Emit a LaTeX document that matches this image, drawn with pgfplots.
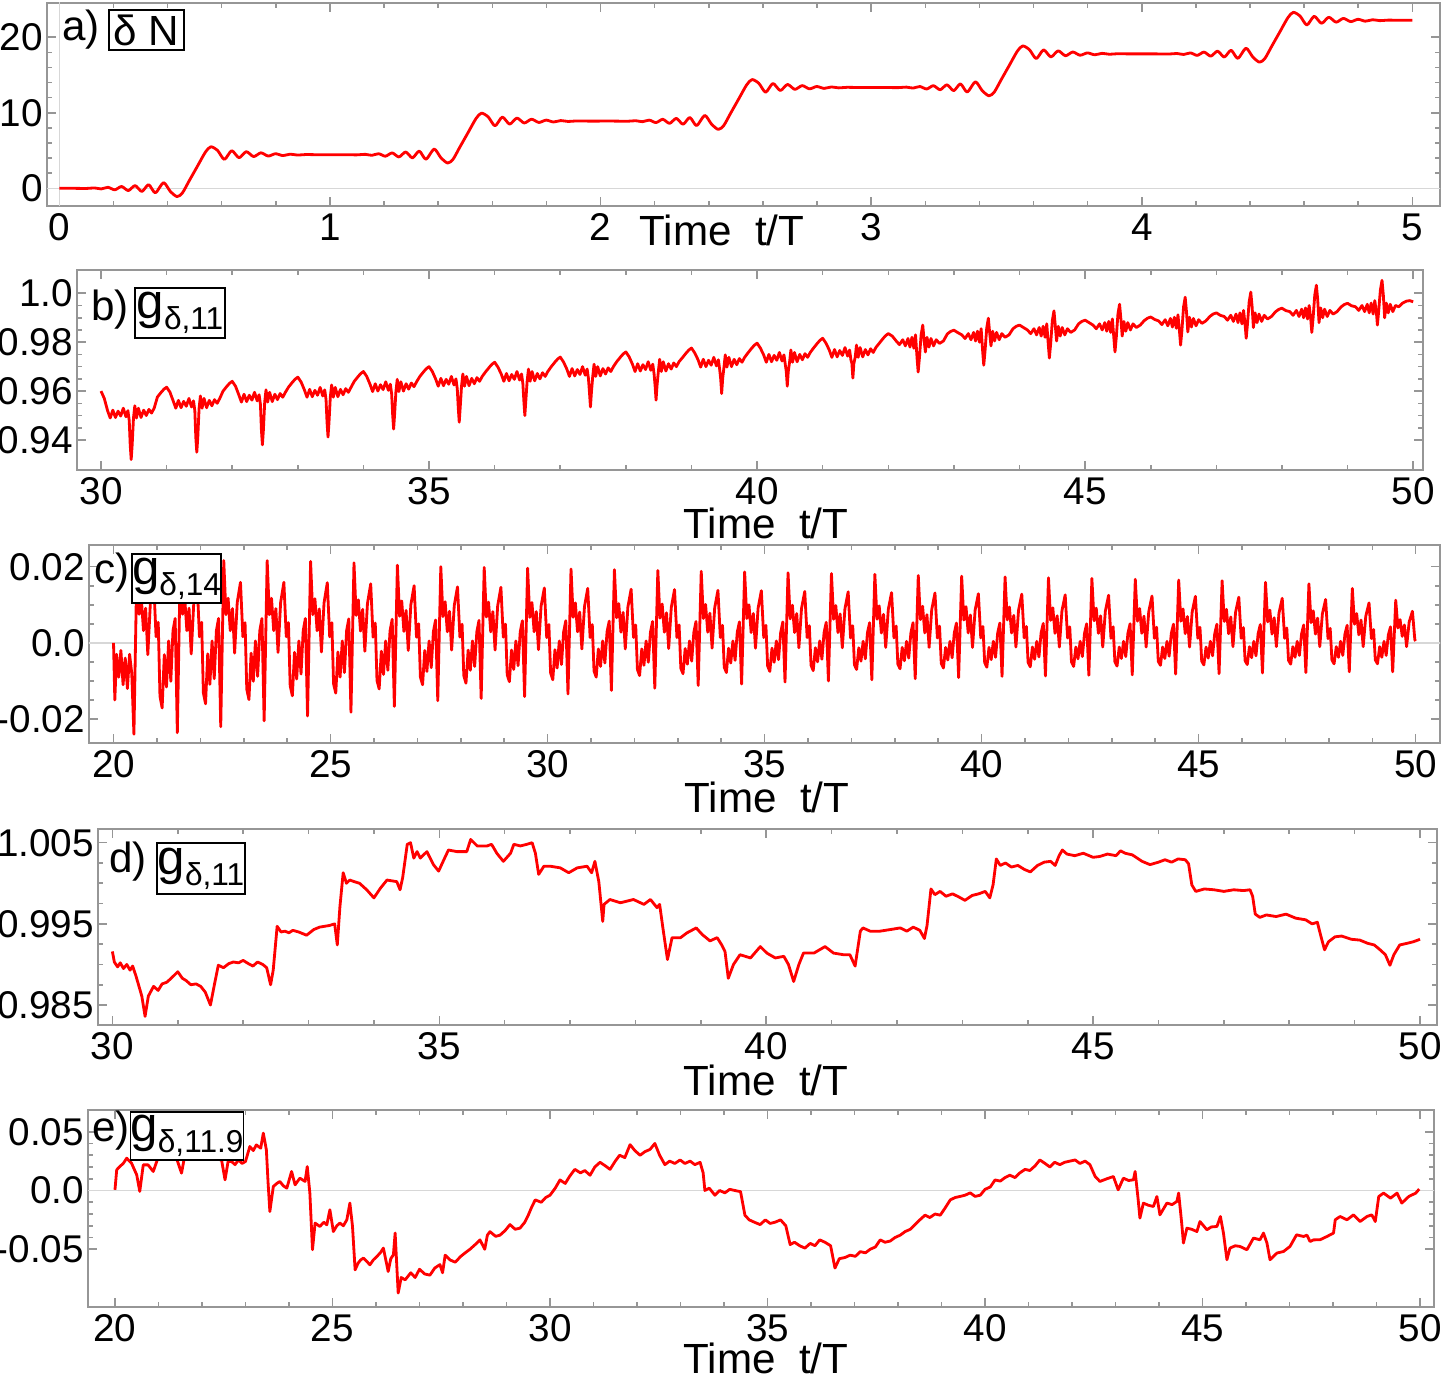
\documentclass[border=0pt]{standalone}
\usepackage{fontspec}
\setmainfont{Liberation Sans}
\usepackage{pgfplots}
\pgfplotsset{compat=1.18}

\definecolor{framegray}{RGB}{150,150,150}
\definecolor{zerogray}{RGB}{215,215,215}

\pgfplotsset{
  panel/.style={
    scale only axis,
    anchor=south west,
    axis line style={framegray, line width=0.45pt},
    tick style={framegray, line width=0.45pt},
    major tick length=0.09cm,
    minor tick length=0.05cm,
    tick align=inside,
    xtick pos=both, ytick pos=both,
    xticklabel pos=lower, yticklabel pos=left,
    scaled x ticks=false, scaled y ticks=false,
    ticklabel style={font=\fontsize{11}{13}\selectfont, text=black},
    yticklabel style={inner xsep=1pt},
    xticklabel style={inner ysep=2pt},
  },
  dataline/.style={red, line width=0.8pt, line join=round, mark=none},
  zeroline/.style={zerogray, line width=0.45pt, mark=none},
}
\newcommand{\gsub}[1]{{\fontsize{14}{16}\selectfont g}\raisebox{-0.5ex}{\fontsize{9}{10}\selectfont #1}}
\newcommand{\timelabel}{Time\hspace{0.55em}t/T}

\begin{document}
\begin{tikzpicture}
\useasboundingbox (0,0) rectangle (14.49,13.83);

% ---------------- a) delta N
\begin{axis}[panel, at={(0.47cm,11.77cm)}, width=13.93cm, height=2.03cm,
  xmin=-0.0455, xmax=5.102, ymin=-2.34, ymax=24.54,
  xtick={0,1,2,3,4,5}, xticklabels={0,1,2,3,4,5},
  ytick={0,10,20}, yticklabels={0,10,20},
  minor x tick num=4, minor y tick num=4]
\addplot[zeroline] coordinates {(-1,0) (6,0)};
\addplot[zeroline] coordinates {(0,-5) (0,30)};
\addplot[dataline, smooth, tension=0.45] coordinates {
(0.000,0.00) (0.050,0.00) (0.100,-0.02) (0.130,0.05) (0.155,-0.08) (0.180,0.13) (0.205,-0.20) (0.230,0.24) (0.255,-0.30) (0.280,0.36) (0.305,-0.42) (0.330,0.48) (0.355,-0.60) (0.385,0.75) (0.410,-0.40) (0.435,-1.10) (0.455,-0.60) (0.480,1.00) (0.510,2.90) (0.540,4.80) (0.560,5.50) (0.585,5.00) (0.610,3.83) (0.637,4.98) (0.664,4.05) (0.691,4.85) (0.718,4.20) (0.745,4.70) (0.772,4.27) (0.799,4.58) (0.826,4.33) (0.853,4.52) (0.880,4.40) (0.910,4.47) (0.950,4.45) (1.000,4.45)
(1.050,4.45) (1.100,4.43) (1.130,4.50) (1.155,4.37) (1.180,4.58) (1.205,4.25) (1.230,4.69) (1.255,4.15) (1.280,4.81) (1.305,4.03) (1.330,4.93) (1.355,3.85) (1.385,5.20) (1.410,4.05) (1.435,3.35) (1.455,3.85) (1.480,5.45) (1.510,7.35) (1.540,9.25) (1.560,9.95) (1.585,9.45) (1.610,8.28) (1.637,9.43) (1.664,8.50) (1.691,9.30) (1.718,8.65) (1.745,9.15) (1.772,8.72) (1.799,9.03) (1.826,8.78) (1.853,8.97) (1.880,8.85) (1.910,8.92) (1.950,8.90) (2.000,8.90)
(2.050,8.90) (2.100,8.88) (2.130,8.95) (2.155,8.82) (2.180,9.03) (2.205,8.70) (2.230,9.14) (2.255,8.60) (2.280,9.26) (2.305,8.48) (2.330,9.38) (2.355,8.30) (2.385,9.65) (2.410,8.50) (2.435,7.80) (2.455,8.30) (2.480,9.90) (2.510,11.80) (2.540,13.70) (2.560,14.40) (2.585,13.90) (2.610,12.73) (2.637,13.88) (2.664,12.95) (2.691,13.75) (2.718,13.10) (2.745,13.60) (2.772,13.17) (2.799,13.48) (2.826,13.23) (2.853,13.42) (2.880,13.30) (2.910,13.37) (2.950,13.35) (3.000,13.35)
(3.050,13.35) (3.100,13.33) (3.130,13.40) (3.155,13.27) (3.180,13.48) (3.205,13.15) (3.230,13.59) (3.255,13.05) (3.280,13.71) (3.305,12.93) (3.330,13.83) (3.355,12.75) (3.385,14.10) (3.410,12.95) (3.435,12.25) (3.455,12.75) (3.480,14.35) (3.510,16.25) (3.540,18.15) (3.560,18.85) (3.585,18.35) (3.610,17.18) (3.637,18.33) (3.664,17.40) (3.691,18.20) (3.718,17.55) (3.745,18.05) (3.772,17.62) (3.799,17.93) (3.826,17.68) (3.853,17.87) (3.880,17.75) (3.910,17.82) (3.950,17.80) (4.000,17.80)
(4.050,17.80) (4.100,17.78) (4.130,17.85) (4.155,17.72) (4.180,17.93) (4.205,17.60) (4.230,18.04) (4.255,17.50) (4.280,18.16) (4.305,17.38) (4.330,18.28) (4.355,17.20) (4.385,18.55) (4.410,17.40) (4.435,16.70) (4.455,17.20) (4.480,18.80) (4.510,20.70) (4.540,22.60) (4.560,23.30) (4.585,22.80) (4.610,21.63) (4.637,22.78) (4.664,21.85) (4.691,22.65) (4.718,22.00) (4.745,22.50) (4.772,22.07) (4.799,22.38) (4.826,22.13) (4.853,22.32) (4.880,22.20) (4.910,22.27) (4.950,22.25) (5.000,22.25)
};
\end{axis}

% ---------------- b) g_{delta,11}
\begin{axis}[panel, at={(0.77cm,9.13cm)}, width=13.46cm, height=2.00cm,
  xmin=29.634, xmax=50.15, ymin=0.92773, ymax=1.00953,
  xtick={30,35,40,45,50}, xticklabels={30,35,40,45,50},
  ytick={0.94,0.96,0.98,1.0}, yticklabels={0.94,0.96,0.98,1.0},
  minor x tick num=4, minor y tick num=3]
\addplot[dataline] coordinates {
(30.00,0.9600) (30.05,0.9570) (30.10,0.9520) (30.14,0.9490) (30.18,0.9522) (30.22,0.9492) (30.26,0.9518) (30.30,0.9498) (30.34,0.9530) (30.38,0.9495) (30.41,0.9520) (30.43,0.9480) (30.445,0.9380) (30.46,0.9320) (30.475,0.9380) (30.495,0.9490) (30.515,0.9540) (30.54,0.9490) (30.57,0.9530) (30.61,0.9492) (30.65,0.9522) (30.69,0.9500) (30.73,0.9525) (30.77,0.9510) (30.81,0.9530) (30.86,0.9576) (30.92,0.9596) (30.96,0.9608)
(31.00,0.9616) (31.05,0.9596) (31.10,0.9560) (31.14,0.9530) (31.18,0.9562) (31.22,0.9532) (31.26,0.9558) (31.30,0.9538) (31.34,0.9570) (31.38,0.9535) (31.41,0.9560) (31.43,0.9520) (31.445,0.9410) (31.46,0.9350) (31.475,0.9410) (31.495,0.9530) (31.515,0.9580) (31.54,0.9530) (31.57,0.9570) (31.61,0.9532) (31.65,0.9562) (31.69,0.9540) (31.73,0.9565) (31.77,0.9550) (31.81,0.9570) (31.86,0.9600) (31.92,0.9620) (31.96,0.9632)
(32.00,0.9640) (32.05,0.9620) (32.10,0.9585) (32.14,0.9555) (32.18,0.9587) (32.22,0.9557) (32.26,0.9583) (32.30,0.9563) (32.34,0.9595) (32.38,0.9560) (32.41,0.9585) (32.43,0.9545) (32.445,0.9440) (32.46,0.9380) (32.475,0.9440) (32.495,0.9555) (32.515,0.9605) (32.54,0.9555) (32.57,0.9595) (32.61,0.9557) (32.65,0.9587) (32.69,0.9565) (32.73,0.9590) (32.77,0.9575) (32.81,0.9595) (32.86,0.9617) (32.92,0.9637) (32.96,0.9649)
(33.00,0.9657) (33.05,0.9637) (33.10,0.9605) (33.14,0.9575) (33.18,0.9607) (33.22,0.9577) (33.26,0.9603) (33.30,0.9583) (33.34,0.9615) (33.38,0.9580) (33.41,0.9605) (33.43,0.9565) (33.445,0.9472) (33.46,0.9412) (33.475,0.9472) (33.495,0.9575) (33.515,0.9625) (33.54,0.9575) (33.57,0.9615) (33.61,0.9577) (33.65,0.9607) (33.69,0.9585) (33.73,0.9610) (33.77,0.9595) (33.81,0.9615) (33.86,0.9640) (33.92,0.9660) (33.96,0.9672)
(34.00,0.9680) (34.05,0.9660) (34.10,0.9628) (34.14,0.9598) (34.18,0.9630) (34.22,0.9600) (34.26,0.9626) (34.30,0.9606) (34.34,0.9638) (34.38,0.9603) (34.41,0.9628) (34.43,0.9588) (34.445,0.9505) (34.46,0.9445) (34.475,0.9505) (34.495,0.9598) (34.515,0.9648) (34.54,0.9598) (34.57,0.9638) (34.61,0.9600) (34.65,0.9630) (34.69,0.9608) (34.73,0.9633) (34.77,0.9618) (34.81,0.9638) (34.86,0.9660) (34.92,0.9680) (34.96,0.9692)
(35.00,0.9700) (35.05,0.9680) (35.10,0.9650) (35.14,0.9620) (35.18,0.9652) (35.22,0.9622) (35.26,0.9648) (35.30,0.9628) (35.34,0.9660) (35.38,0.9625) (35.41,0.9650) (35.43,0.9610) (35.445,0.9533) (35.46,0.9473) (35.475,0.9533) (35.495,0.9620) (35.515,0.9670) (35.54,0.9620) (35.57,0.9660) (35.61,0.9622) (35.65,0.9652) (35.69,0.9630) (35.73,0.9655) (35.77,0.9640) (35.81,0.9660) (35.86,0.9678) (35.92,0.9698) (35.96,0.9710)
(36.00,0.9718) (36.05,0.9698) (36.10,0.9670) (36.14,0.9640) (36.18,0.9672) (36.22,0.9642) (36.26,0.9668) (36.30,0.9648) (36.34,0.9680) (36.38,0.9645) (36.41,0.9670) (36.43,0.9630) (36.445,0.9560) (36.46,0.9500) (36.475,0.9560) (36.495,0.9640) (36.515,0.9690) (36.54,0.9640) (36.57,0.9680) (36.61,0.9642) (36.65,0.9672) (36.69,0.9650) (36.73,0.9675) (36.77,0.9660) (36.81,0.9680) (36.86,0.9699) (36.92,0.9719) (36.96,0.9731)
(37.00,0.9739) (37.05,0.9719) (37.10,0.9690) (37.14,0.9660) (37.18,0.9692) (37.22,0.9662) (37.26,0.9688) (37.30,0.9668) (37.34,0.9700) (37.38,0.9665) (37.41,0.9690) (37.43,0.9650) (37.445,0.9595) (37.46,0.9535) (37.475,0.9595) (37.495,0.9660) (37.515,0.9710) (37.54,0.9660) (37.57,0.9700) (37.61,0.9662) (37.65,0.9692) (37.69,0.9670) (37.73,0.9695) (37.77,0.9680) (37.81,0.9700) (37.86,0.9720) (37.92,0.9740) (37.96,0.9752)
(38.00,0.9760) (38.05,0.9740) (38.10,0.9710) (38.14,0.9680) (38.18,0.9712) (38.22,0.9682) (38.26,0.9708) (38.30,0.9688) (38.34,0.9720) (38.38,0.9685) (38.41,0.9710) (38.43,0.9670) (38.445,0.9623) (38.46,0.9563) (38.475,0.9623) (38.495,0.9680) (38.515,0.9730) (38.54,0.9680) (38.57,0.9720) (38.61,0.9682) (38.65,0.9712) (38.69,0.9690) (38.73,0.9715) (38.77,0.9700) (38.81,0.9720) (38.86,0.9736) (38.92,0.9756) (38.96,0.9768)
(39.00,0.9776) (39.05,0.9756) (39.10,0.9728) (39.14,0.9698) (39.18,0.9730) (39.22,0.9700) (39.26,0.9726) (39.30,0.9706) (39.34,0.9738) (39.38,0.9703) (39.41,0.9728) (39.43,0.9688) (39.445,0.9650) (39.46,0.9590) (39.475,0.9650) (39.495,0.9698) (39.515,0.9748) (39.54,0.9698) (39.57,0.9738) (39.61,0.9700) (39.65,0.9730) (39.69,0.9708) (39.73,0.9733) (39.77,0.9718) (39.81,0.9738) (39.86,0.9756) (39.92,0.9776) (39.96,0.9788)
(40.00,0.9796) (40.05,0.9776) (40.10,0.9748) (40.14,0.9718) (40.18,0.9750) (40.22,0.9720) (40.26,0.9746) (40.30,0.9726) (40.34,0.9758) (40.38,0.9723) (40.41,0.9748) (40.43,0.9708) (40.445,0.9680) (40.46,0.9620) (40.475,0.9680) (40.495,0.9718) (40.515,0.9768) (40.54,0.9718) (40.57,0.9758) (40.61,0.9720) (40.65,0.9750) (40.69,0.9728) (40.73,0.9753) (40.77,0.9738) (40.81,0.9758) (40.86,0.9776) (40.92,0.9796) (40.96,0.9808)
(41.00,0.9816) (41.05,0.9796) (41.10,0.9768) (41.14,0.9738) (41.18,0.9770) (41.22,0.9740) (41.26,0.9766) (41.30,0.9746) (41.34,0.9778) (41.38,0.9743) (41.41,0.9768) (41.43,0.9728) (41.445,0.9713) (41.46,0.9653) (41.475,0.9713) (41.495,0.9738) (41.515,0.9788) (41.54,0.9738) (41.57,0.9778) (41.61,0.9740) (41.65,0.9770) (41.69,0.9748) (41.73,0.9773) (41.77,0.9758) (41.81,0.9778) (41.86,0.9795) (41.92,0.9815) (41.96,0.9827)
(42.00,0.9835) (42.06,0.9825) (42.12,0.9805) (42.17,0.9790) (42.22,0.9810) (42.26,0.9785) (42.30,0.9815) (42.33,0.9780) (42.36,0.9820) (42.39,0.9775) (42.415,0.9830) (42.44,0.9728) (42.455,0.9678) (42.475,0.9738) (42.50,0.9830) (42.525,0.9870) (42.545,0.9810) (42.565,0.9760) (42.59,0.9820) (42.62,0.9780) (42.65,0.9815) (42.69,0.9785) (42.73,0.9810) (42.78,0.9795) (42.84,0.9805) (42.90,0.9834) (42.95,0.9844)
(43.00,0.9849) (43.06,0.9839) (43.12,0.9830) (43.17,0.9815) (43.22,0.9835) (43.26,0.9810) (43.30,0.9840) (43.33,0.9805) (43.36,0.9845) (43.39,0.9800) (43.415,0.9855) (43.44,0.9756) (43.455,0.9706) (43.475,0.9766) (43.50,0.9858) (43.525,0.9898) (43.545,0.9838) (43.565,0.9785) (43.59,0.9845) (43.62,0.9805) (43.65,0.9840) (43.69,0.9810) (43.73,0.9835) (43.78,0.9820) (43.84,0.9830) (43.90,0.9855) (43.95,0.9865)
(44.00,0.9870) (44.06,0.9860) (44.12,0.9850) (44.17,0.9835) (44.22,0.9855) (44.26,0.9830) (44.30,0.9860) (44.33,0.9825) (44.36,0.9865) (44.39,0.9820) (44.415,0.9875) (44.44,0.9785) (44.455,0.9735) (44.475,0.9795) (44.50,0.9888) (44.525,0.9928) (44.545,0.9868) (44.565,0.9805) (44.59,0.9865) (44.62,0.9825) (44.65,0.9860) (44.69,0.9830) (44.73,0.9855) (44.78,0.9840) (44.84,0.9850) (44.90,0.9875) (44.95,0.9885)
(45.00,0.9890) (45.06,0.9880) (45.12,0.9870) (45.17,0.9855) (45.22,0.9875) (45.26,0.9850) (45.30,0.9880) (45.33,0.9845) (45.36,0.9885) (45.39,0.9840) (45.415,0.9895) (45.44,0.9810) (45.455,0.9760) (45.475,0.9820) (45.50,0.9915) (45.525,0.9955) (45.545,0.9895) (45.565,0.9825) (45.59,0.9885) (45.62,0.9845) (45.65,0.9880) (45.69,0.9850) (45.73,0.9875) (45.78,0.9860) (45.84,0.9870) (45.90,0.9888) (45.95,0.9898)
(46.00,0.9903) (46.06,0.9893) (46.12,0.9887) (46.17,0.9872) (46.22,0.9892) (46.26,0.9867) (46.30,0.9897) (46.33,0.9862) (46.36,0.9902) (46.39,0.9857) (46.415,0.9912) (46.44,0.9838) (46.455,0.9788) (46.475,0.9848) (46.50,0.9944) (46.525,0.9984) (46.545,0.9924) (46.565,0.9842) (46.59,0.9902) (46.62,0.9862) (46.65,0.9897) (46.69,0.9867) (46.73,0.9892) (46.78,0.9877) (46.84,0.9887) (46.90,0.9905) (46.95,0.9915)
(47.00,0.9920) (47.06,0.9910) (47.12,0.9905) (47.17,0.9890) (47.22,0.9910) (47.26,0.9885) (47.30,0.9915) (47.33,0.9880) (47.36,0.9920) (47.39,0.9875) (47.415,0.9930) (47.44,0.9866) (47.455,0.9816) (47.475,0.9876) (47.50,0.9965) (47.525,1.0005) (47.545,0.9945) (47.565,0.9860) (47.59,0.9920) (47.62,0.9880) (47.65,0.9915) (47.69,0.9885) (47.73,0.9910) (47.78,0.9895) (47.84,0.9905) (47.90,0.9924) (47.95,0.9934)
(48.00,0.9939) (48.06,0.9929) (48.12,0.9925) (48.17,0.9910) (48.22,0.9930) (48.26,0.9905) (48.30,0.9935) (48.33,0.9900) (48.36,0.9940) (48.39,0.9895) (48.415,0.9950) (48.44,0.9890) (48.455,0.9840) (48.475,0.9900) (48.50,0.9993) (48.525,1.0033) (48.545,0.9973) (48.565,0.9880) (48.59,0.9940) (48.62,0.9900) (48.65,0.9935) (48.69,0.9905) (48.73,0.9930) (48.78,0.9915) (48.84,0.9925) (48.90,0.9944) (48.95,0.9954)
(49.00,0.9959) (49.06,0.9949) (49.12,0.9945) (49.17,0.9930) (49.22,0.9950) (49.26,0.9925) (49.30,0.9955) (49.33,0.9920) (49.36,0.9960) (49.39,0.9915) (49.415,0.9970) (49.44,0.9920) (49.455,0.9870) (49.475,0.9930) (49.50,1.0013) (49.525,1.0053) (49.545,0.9993) (49.565,0.9900) (49.59,0.9960) (49.62,0.9920) (49.65,0.9955) (49.69,0.9925) (49.73,0.9950) (49.78,0.9945) (49.84,0.9960) (49.90,0.9968) (49.95,0.9970) (50.00,0.9965)
};
\end{axis}

% ---------------- c) g_{delta,14}
\begin{axis}[panel, at={(0.89cm,6.40cm)}, width=13.51cm, height=1.98cm,
  xmin=19.435, xmax=50.56, ymin=-0.0263, ymax=0.0257,
  xtick={20,25,30,35,40,45,50}, xticklabels={20,25,30,35,40,45,50},
  ytick={-0.02,0,0.02}, yticklabels={-0.02,0.0,0.02},
  minor x tick num=4, minor y tick num=3]
\addplot[zeroline] coordinates {(19,0) (51,0)};
\addplot[dataline] coordinates {
(20.00,0.0000) (20.03,-0.0150) (20.07,-0.0030) (20.12,-0.0090) (20.17,-0.0020) (20.22,-0.0110) (20.27,-0.0040) (20.32,-0.0120) (20.37,-0.0030) (20.42,-0.0080) (20.47,-0.0240)
(20.54,0.0218) (20.59,0.0075) (20.64,0.0118) (20.69,0.0032) (20.74,0.0091) (20.79,-0.0031) (20.85,0.0107) (20.925,0.0161) (20.98,0.0016) (21.03,0.0054) (21.07,-0.0140) (21.12,-0.0171) (21.17,-0.0031) (21.22,-0.0116) (21.27,0.0005) (21.32,-0.0101) (21.37,0.0032) (21.42,0.0064) (21.47,-0.0236)
(21.54,0.0218) (21.59,0.0075) (21.64,0.0118) (21.69,0.0032) (21.74,0.0091) (21.79,-0.0029) (21.85,0.0107) (21.925,0.0161) (21.98,0.0016) (22.03,0.0054) (22.07,-0.0131) (22.12,-0.0160) (22.17,-0.0029) (22.22,-0.0109) (22.27,0.0005) (22.32,-0.0094) (22.37,0.0032) (22.42,0.0064) (22.47,-0.0220)
(22.54,0.0216) (22.59,0.0074) (22.64,0.0117) (22.69,0.0032) (22.74,0.0090) (22.79,-0.0027) (22.85,0.0106) (22.925,0.0159) (22.98,0.0016) (23.03,0.0053) (23.07,-0.0122) (23.12,-0.0149) (23.17,-0.0027) (23.22,-0.0101) (23.27,0.0005) (23.32,-0.0088) (23.37,0.0032) (23.42,0.0064) (23.47,-0.0205)
(23.54,0.0216) (23.59,0.0074) (23.64,0.0117) (23.69,0.0032) (23.74,0.0090) (23.79,-0.0025) (23.85,0.0106) (23.925,0.0159) (23.98,0.0016) (24.03,0.0053) (24.07,-0.0113) (24.12,-0.0139) (24.17,-0.0025) (24.22,-0.0095) (24.27,0.0005) (24.32,-0.0082) (24.37,0.0032) (24.42,0.0064) (24.47,-0.0192)
(24.54,0.0214) (24.59,0.0074) (24.64,0.0116) (24.69,0.0032) (24.74,0.0089) (24.79,-0.0024) (24.85,0.0105) (24.925,0.0158) (24.98,0.0016) (25.03,0.0053) (25.07,-0.0108) (25.12,-0.0132) (25.17,-0.0024) (25.22,-0.0090) (25.27,0.0005) (25.32,-0.0078) (25.37,0.0032) (25.42,0.0063) (25.47,-0.0182)
(25.54,0.0210) (25.59,0.0072) (25.64,0.0113) (25.69,0.0031) (25.74,0.0088) (25.79,-0.0022) (25.85,0.0103) (25.925,0.0155) (25.98,0.0015) (26.03,0.0052) (26.07,-0.0099) (26.12,-0.0121) (26.17,-0.0022) (26.22,-0.0083) (26.27,0.0005) (26.32,-0.0072) (26.37,0.0031) (26.42,0.0062) (26.47,-0.0167)
(26.54,0.0204) (26.59,0.0070) (26.64,0.0110) (26.69,0.0030) (26.74,0.0085) (26.79,-0.0020) (26.85,0.0100) (26.925,0.0150) (26.98,0.0015) (27.03,0.0050) (27.07,-0.0090) (27.12,-0.0110) (27.17,-0.0020) (27.22,-0.0075) (27.27,0.0005) (27.32,-0.0065) (27.37,0.0030) (27.42,0.0060) (27.47,-0.0152)
(27.54,0.0200) (27.59,0.0069) (27.64,0.0108) (27.69,0.0029) (27.74,0.0083) (27.79,-0.0019) (27.85,0.0098) (27.925,0.0147) (27.98,0.0015) (28.03,0.0049) (28.07,-0.0086) (28.12,-0.0106) (28.17,-0.0019) (28.22,-0.0072) (28.27,0.0005) (28.32,-0.0062) (28.37,0.0029) (28.42,0.0059) (28.47,-0.0146)
(28.54,0.0198) (28.59,0.0068) (28.64,0.0107) (28.69,0.0029) (28.74,0.0082) (28.79,-0.0019) (28.85,0.0097) (28.925,0.0146) (28.98,0.0015) (29.03,0.0049) (29.07,-0.0084) (29.12,-0.0102) (29.17,-0.0019) (29.22,-0.0070) (29.27,0.0005) (29.32,-0.0060) (29.37,0.0029) (29.42,0.0058) (29.47,-0.0141)
(29.54,0.0196) (29.59,0.0067) (29.64,0.0106) (29.69,0.0029) (29.74,0.0082) (29.79,-0.0018) (29.85,0.0096) (29.925,0.0144) (29.98,0.0014) (30.03,0.0048) (30.07,-0.0079) (30.12,-0.0097) (30.17,-0.0018) (30.22,-0.0066) (30.27,0.0005) (30.32,-0.0057) (30.37,0.0029) (30.42,0.0058) (30.47,-0.0134)
(30.54,0.0194) (30.59,0.0067) (30.64,0.0105) (30.69,0.0029) (30.74,0.0081) (30.79,-0.0016) (30.85,0.0095) (30.925,0.0143) (30.98,0.0014) (31.03,0.0048) (31.07,-0.0074) (31.12,-0.0090) (31.17,-0.0016) (31.22,-0.0062) (31.27,0.0005) (31.32,-0.0053) (31.37,0.0029) (31.42,0.0057) (31.47,-0.0125)
(31.54,0.0192) (31.59,0.0066) (31.64,0.0103) (31.69,0.0028) (31.74,0.0080) (31.79,-0.0016) (31.85,0.0094) (31.925,0.0141) (31.98,0.0014) (32.03,0.0047) (32.07,-0.0070) (32.12,-0.0086) (32.17,-0.0016) (32.22,-0.0059) (32.27,0.0005) (32.32,-0.0051) (32.37,0.0028) (32.42,0.0056) (32.47,-0.0119)
(32.54,0.0190) (32.59,0.0065) (32.64,0.0102) (32.69,0.0028) (32.74,0.0079) (32.79,-0.0015) (32.85,0.0093) (32.925,0.0140) (32.98,0.0014) (33.03,0.0047) (33.07,-0.0067) (33.12,-0.0081) (33.17,-0.0015) (33.22,-0.0056) (33.27,0.0005) (33.32,-0.0048) (33.37,0.0028) (33.42,0.0056) (33.47,-0.0112)
(33.54,0.0188) (33.59,0.0064) (33.64,0.0101) (33.69,0.0028) (33.74,0.0078) (33.79,-0.0014) (33.85,0.0092) (33.925,0.0138) (33.98,0.0014) (34.03,0.0046) (34.07,-0.0064) (34.12,-0.0078) (34.17,-0.0014) (34.22,-0.0053) (34.27,0.0005) (34.32,-0.0046) (34.37,0.0028) (34.42,0.0055) (34.47,-0.0108)
(34.54,0.0186) (34.59,0.0064) (34.64,0.0100) (34.69,0.0027) (34.74,0.0077) (34.79,-0.0014) (34.85,0.0091) (34.925,0.0137) (34.98,0.0014) (35.03,0.0046) (35.07,-0.0061) (35.12,-0.0075) (35.17,-0.0014) (35.22,-0.0051) (35.27,0.0005) (35.32,-0.0044) (35.37,0.0027) (35.42,0.0055) (35.47,-0.0103)
(35.54,0.0184) (35.59,0.0063) (35.64,0.0099) (35.69,0.0027) (35.74,0.0077) (35.79,-0.0013) (35.85,0.0090) (35.925,0.0135) (35.98,0.0014) (36.03,0.0045) (36.07,-0.0059) (36.12,-0.0073) (36.17,-0.0013) (36.22,-0.0050) (36.27,0.0005) (36.32,-0.0043) (36.37,0.0027) (36.42,0.0054) (36.47,-0.0100)
(36.54,0.0182) (36.59,0.0062) (36.64,0.0098) (36.69,0.0027) (36.74,0.0076) (36.79,-0.0013) (36.85,0.0089) (36.925,0.0134) (36.98,0.0013) (37.03,0.0045) (37.07,-0.0058) (37.12,-0.0070) (37.17,-0.0013) (37.22,-0.0048) (37.27,0.0004) (37.32,-0.0042) (37.37,0.0027) (37.42,0.0053) (37.47,-0.0097)
(37.54,0.0180) (37.59,0.0062) (37.64,0.0097) (37.69,0.0026) (37.74,0.0075) (37.79,-0.0012) (37.85,0.0088) (37.925,0.0132) (37.98,0.0013) (38.03,0.0044) (38.07,-0.0056) (38.12,-0.0068) (38.17,-0.0012) (38.22,-0.0047) (38.27,0.0004) (38.32,-0.0040) (38.37,0.0026) (38.42,0.0053) (38.47,-0.0094)
(38.54,0.0177) (38.59,0.0061) (38.64,0.0096) (38.69,0.0026) (38.74,0.0074) (38.79,-0.0012) (38.85,0.0087) (38.925,0.0131) (38.98,0.0013) (39.03,0.0044) (39.07,-0.0054) (39.12,-0.0066) (39.17,-0.0012) (39.22,-0.0045) (39.27,0.0004) (39.32,-0.0039) (39.37,0.0026) (39.42,0.0052) (39.47,-0.0091)
(39.54,0.0175) (39.59,0.0060) (39.64,0.0095) (39.69,0.0026) (39.74,0.0073) (39.79,-0.0012) (39.85,0.0086) (39.925,0.0129) (39.98,0.0013) (40.03,0.0043) (40.07,-0.0052) (40.12,-0.0064) (40.17,-0.0012) (40.22,-0.0044) (40.27,0.0004) (40.32,-0.0038) (40.37,0.0026) (40.42,0.0052) (40.47,-0.0088)
(40.54,0.0173) (40.59,0.0060) (40.64,0.0094) (40.69,0.0026) (40.74,0.0072) (40.79,-0.0011) (40.85,0.0085) (40.925,0.0128) (40.98,0.0013) (41.03,0.0043) (41.07,-0.0051) (41.12,-0.0063) (41.17,-0.0011) (41.22,-0.0043) (41.27,0.0004) (41.32,-0.0037) (41.37,0.0026) (41.42,0.0051) (41.47,-0.0087)
(41.54,0.0171) (41.59,0.0059) (41.64,0.0092) (41.69,0.0025) (41.74,0.0071) (41.79,-0.0011) (41.85,0.0084) (41.925,0.0126) (41.98,0.0013) (42.03,0.0042) (42.07,-0.0050) (42.12,-0.0062) (42.17,-0.0011) (42.22,-0.0042) (42.27,0.0004) (42.32,-0.0036) (42.37,0.0025) (42.42,0.0050) (42.47,-0.0085)
(42.54,0.0169) (42.59,0.0058) (42.64,0.0091) (42.69,0.0025) (42.74,0.0071) (42.79,-0.0011) (42.85,0.0083) (42.925,0.0125) (42.98,0.0012) (43.03,0.0042) (43.07,-0.0050) (43.12,-0.0061) (43.17,-0.0011) (43.22,-0.0041) (43.27,0.0004) (43.32,-0.0036) (43.37,0.0025) (43.42,0.0050) (43.47,-0.0084)
(43.54,0.0167) (43.59,0.0057) (43.64,0.0090) (43.69,0.0025) (43.74,0.0070) (43.79,-0.0011) (43.85,0.0082) (43.925,0.0123) (43.98,0.0012) (44.03,0.0041) (44.07,-0.0049) (44.12,-0.0059) (44.17,-0.0011) (44.22,-0.0041) (44.27,0.0004) (44.32,-0.0035) (44.37,0.0025) (44.42,0.0049) (44.47,-0.0082)
(44.54,0.0165) (44.59,0.0057) (44.64,0.0089) (44.69,0.0024) (44.74,0.0069) (44.79,-0.0011) (44.85,0.0081) (44.925,0.0122) (44.98,0.0012) (45.03,0.0041) (45.07,-0.0048) (45.12,-0.0058) (45.17,-0.0011) (45.22,-0.0040) (45.27,0.0004) (45.32,-0.0034) (45.37,0.0024) (45.42,0.0049) (45.47,-0.0081)
(45.54,0.0163) (45.59,0.0056) (45.64,0.0088) (45.69,0.0024) (45.74,0.0068) (45.79,-0.0010) (45.85,0.0080) (45.925,0.0120) (45.98,0.0012) (46.03,0.0040) (46.07,-0.0047) (46.12,-0.0057) (46.17,-0.0010) (46.22,-0.0039) (46.27,0.0004) (46.32,-0.0034) (46.37,0.0024) (46.42,0.0048) (46.47,-0.0079)
(46.54,0.0159) (46.59,0.0055) (46.64,0.0086) (46.69,0.0023) (46.74,0.0066) (46.79,-0.0010) (46.85,0.0078) (46.925,0.0117) (46.98,0.0012) (47.03,0.0039) (47.07,-0.0046) (47.12,-0.0056) (47.17,-0.0010) (47.22,-0.0038) (47.27,0.0004) (47.32,-0.0033) (47.37,0.0023) (47.42,0.0047) (47.47,-0.0078)
(47.54,0.0155) (47.59,0.0053) (47.64,0.0084) (47.69,0.0023) (47.74,0.0065) (47.79,-0.0010) (47.85,0.0076) (47.925,0.0114) (47.98,0.0011) (48.03,0.0038) (48.07,-0.0045) (48.12,-0.0055) (48.17,-0.0010) (48.22,-0.0038) (48.27,0.0004) (48.32,-0.0033) (48.37,0.0023) (48.42,0.0046) (48.47,-0.0076)
(48.54,0.0143) (48.59,0.0049) (48.64,0.0077) (48.69,0.0021) (48.74,0.0060) (48.79,-0.0010) (48.85,0.0070) (48.925,0.0105) (48.98,0.0011) (49.03,0.0035) (49.07,-0.0045) (49.12,-0.0055) (49.17,-0.0010) (49.22,-0.0038) (49.27,0.0004) (49.32,-0.0033) (49.37,0.0021) (49.42,0.0042) (49.47,-0.0076)
(49.54,0.0112) (49.59,0.0039) (49.64,0.0061) (49.69,0.0017) (49.74,0.0047) (49.79,-0.0010) (49.85,0.0055) (49.925,0.0083) (49.98,0.0008) (50.00,0.0005)
};
\end{axis}

% ---------------- d) g_{delta,11}
\begin{axis}[panel, at={(0.98cm,3.58cm)}, width=13.39cm, height=1.96cm,
  xmin=29.78, xmax=50.26, ymin=0.98254, ymax=1.00669,
  xtick={30,35,40,45,50}, xticklabels={30,35,40,45,50},
  ytick={0.985,0.995,1.005}, yticklabels={0.985,0.995,1.005},
  minor x tick num=4, minor y tick num=3]
\addplot[dataline] coordinates {
(30.00,0.9916) (30.03,0.9903) (30.08,0.9897) (30.12,0.9902) (30.17,0.9895) (30.22,0.9900) (30.27,0.9893) (30.31,0.9898) (30.36,0.9886) (30.45,0.9861) (30.50,0.9836) (30.55,0.9861) (30.63,0.9873) (30.70,0.9868) (30.76,0.9876) (30.83,0.9878) (30.90,0.9883) (31.00,0.9891)
(31.07,0.9883) (31.13,0.9880) (31.20,0.9875) (31.28,0.9876) (31.35,0.9873) (31.42,0.9866) (31.50,0.9850) (31.56,0.9875) (31.62,0.9899) (31.70,0.9896) (31.78,0.9901) (31.85,0.9903) (31.93,0.9902) (32.00,0.9905)
(32.08,0.9901) (32.15,0.9898) (32.22,0.9903) (32.30,0.9900) (32.36,0.9896) (32.42,0.9875) (32.46,0.9893) (32.52,0.9947) (32.58,0.9940) (32.64,0.9941) (32.70,0.9939) (32.76,0.9942) (32.85,0.9940) (32.97,0.9936)
(33.08,0.9943) (33.17,0.9946) (33.32,0.9948) (33.40,0.9950) (33.44,0.9924) (33.48,0.9971) (33.53,1.0013) (33.58,1.0000) (33.63,1.0004) (33.70,1.0002) (33.78,1.0000) (33.89,0.9992) (34.00,0.9982)
(34.10,0.9994) (34.20,1.0004) (34.35,1.0002) (34.40,0.9992) (34.44,1.0007) (34.51,1.0048) (34.56,1.0050) (34.61,1.0031) (34.66,1.0039) (34.71,1.0031) (34.81,1.0039) (34.91,1.0023) (34.99,1.0015)
(35.07,1.0029) (35.14,1.0041) (35.27,1.0039) (35.42,1.0039) (35.48,1.0054) (35.58,1.0046) (35.73,1.0046) (35.80,1.0048) (35.88,1.0037) (35.98,1.0027)
(36.09,1.0037) (36.14,1.0048) (36.24,1.0046) (36.34,1.0048) (36.42,1.0050) (36.47,1.0037) (36.52,1.0011) (36.60,1.0021) (36.70,1.0021) (36.85,1.0019) (36.98,1.0013)
(37.11,1.0019) (37.26,1.0021) (37.33,1.0013) (37.38,1.0027) (37.44,1.0002) (37.50,0.9953) (37.52,0.9974) (37.61,0.9980) (37.77,0.9976) (37.97,0.9980)
(38.13,0.9974) (38.23,0.9980) (38.33,0.9970) (38.37,0.9974) (38.42,0.9945) (38.49,0.9906) (38.56,0.9933) (38.69,0.9933) (38.79,0.9939) (38.93,0.9945)
(39.02,0.9937) (39.14,0.9929) (39.25,0.9933) (39.32,0.9924) (39.37,0.9916) (39.42,0.9883) (39.50,0.9900) (39.60,0.9912) (39.76,0.9908) (39.91,0.9922)
(40.01,0.9914) (40.14,0.9908) (40.27,0.9910) (40.34,0.9900) (40.42,0.9879) (40.50,0.9900) (40.57,0.9914) (40.73,0.9914) (40.90,0.9922)
(41.03,0.9914) (41.18,0.9912) (41.28,0.9912) (41.36,0.9898) (41.44,0.9941) (41.48,0.9945) (41.59,0.9941) (41.74,0.9941) (41.90,0.9943)
(42.05,0.9945) (42.15,0.9941) (42.25,0.9946) (42.35,0.9942) (42.42,0.9932) (42.46,0.9948) (42.52,0.9993) (42.58,0.9986) (42.66,0.9990) (42.75,0.9984) (42.85,0.9987) (42.95,0.9983)
(43.04,0.9979) (43.15,0.9985) (43.25,0.9987) (43.35,0.9990) (43.42,0.9982) (43.47,0.9998) (43.52,1.0030) (43.58,1.0022) (43.66,1.0025) (43.75,1.0020) (43.85,1.0022) (43.95,1.0017)
(44.04,1.0014) (44.15,1.0022) (44.25,1.0026) (44.35,1.0027) (44.42,1.0022) (44.48,1.0034) (44.53,1.0041) (44.60,1.0036) (44.72,1.0034) (44.85,1.0037)
(45.00,1.0032) (45.10,1.0033) (45.22,1.0036) (45.35,1.0034) (45.42,1.0040) (45.49,1.0037) (45.60,1.0035) (45.75,1.0027) (45.87,1.0023)
(46.00,1.0026) (46.10,1.0029) (46.20,1.0026) (46.30,1.0030) (46.41,1.0029) (46.46,1.0024) (46.51,0.9998) (46.57,0.9990) (46.70,0.9993) (46.85,0.9992)
(47.00,0.9990) (47.15,0.9992) (47.30,0.9991) (47.40,0.9992) (47.44,0.9984) (47.48,0.9962) (47.55,0.9958) (47.65,0.9961) (47.80,0.9959) (47.95,0.9962)
(48.10,0.9957) (48.25,0.9955) (48.35,0.9950) (48.43,0.9952) (48.48,0.9936) (48.54,0.9918) (48.60,0.9928) (48.70,0.9934) (48.80,0.9935) (48.95,0.9931)
(49.08,0.9930) (49.20,0.9926) (49.30,0.9924) (49.39,0.9918) (49.47,0.9912) (49.54,0.9899) (49.60,0.9912) (49.69,0.9924) (49.80,0.9926) (49.90,0.9928) (50.00,0.9931)
};
\end{axis}

% ---------------- e) g_{delta,11.9}
\begin{axis}[panel, at={(0.88cm,0.76cm)}, width=13.46cm, height=1.97cm,
  xmin=19.38, xmax=50.32, ymin=-0.0991, ymax=0.0685,
  xtick={20,25,30,35,40,45,50}, xticklabels={20,25,30,35,40,45,50},
  ytick={-0.05,0,0.05}, yticklabels={-0.05,0.0,0.05},
  minor x tick num=4, minor y tick num=4]
\addplot[zeroline] coordinates {(19,0) (51,0)};
\addplot[dataline] coordinates {
(20.00,0.0006) (20.04,0.0176) (20.11,0.0204) (20.19,0.0230) (20.27,0.0275) (20.38,0.0233) (20.50,0.0133) (20.57,-0.0008) (20.65,0.0218) (20.76,0.0218) (20.88,0.0162) (21.00,0.0289)
(21.10,0.0300) (21.20,0.0270) (21.30,0.0320) (21.40,0.0290) (21.53,0.0148) (21.60,0.0289) (21.70,0.0270) (21.80,0.0289) (21.88,0.0261) (22.00,0.0300) (22.10,0.0280) (22.20,0.0310) (22.30,0.0270) (22.45,0.0260)
(22.53,0.0091) (22.60,0.0247) (22.68,0.0247) (22.76,0.0220) (22.84,0.0261) (22.92,0.0230) (23.00,0.0247) (23.10,0.0374) (23.18,0.0340) (23.25,0.0388) (23.35,0.0360) (23.41,0.0488) (23.48,0.0346) (23.52,0.0063)
(23.56,-0.0179) (23.64,0.0034) (23.72,0.0060) (23.79,0.0077) (23.87,0.0040) (23.95,0.0020) (24.06,0.0162) (24.14,0.0048) (24.25,0.0105) (24.37,0.0077) (24.42,0.0204) (24.48,-0.0022)
(24.54,-0.0504) (24.60,-0.0277) (24.71,-0.0306) (24.80,-0.0270) (24.87,-0.0292) (24.94,-0.0164) (25.02,-0.0349) (25.10,-0.0300) (25.17,-0.0277) (25.25,-0.0300) (25.33,-0.0249) (25.40,-0.0107) (25.46,-0.0306)
(25.52,-0.0675) (25.59,-0.0617) (25.65,-0.0590) (25.71,-0.0575) (25.78,-0.0600) (25.86,-0.0632) (25.94,-0.0590) (26.02,-0.0561) (26.10,-0.0530) (26.17,-0.0490) (26.28,-0.0689) (26.34,-0.0580) (26.40,-0.0547) (26.44,-0.0362)
(26.51,-0.0872) (26.58,-0.0740) (26.67,-0.0760) (26.80,-0.0700) (26.90,-0.0740) (27.00,-0.0670) (27.12,-0.0710) (27.24,-0.0720) (27.35,-0.0660) (27.47,-0.0630)
(27.53,-0.0700) (27.59,-0.0550) (27.70,-0.0590) (27.82,-0.0610) (27.95,-0.0560) (28.05,-0.0530) (28.16,-0.0500) (28.28,-0.0460) (28.39,-0.0420)
(28.50,-0.0500) (28.56,-0.0380) (28.62,-0.0350) (28.75,-0.0390) (28.85,-0.0380) (28.97,-0.0340) (29.08,-0.0290) (29.20,-0.0330) (29.31,-0.0320) (29.42,-0.0270)
(29.50,-0.0210) (29.58,-0.0140) (29.66,-0.0080) (29.80,-0.0100) (29.90,-0.0060) (30.00,-0.0040) (30.12,0.0020) (30.23,0.0090) (30.35,0.0060) (30.45,0.0120)
(30.57,0.0180) (30.70,0.0150) (30.80,0.0170) (30.92,0.0130) (31.03,0.0200) (31.15,0.0240) (31.27,0.0210) (31.38,0.0180) (31.50,0.0250)
(31.60,0.0300) (31.72,0.0280) (31.84,0.0390) (31.95,0.0340) (32.07,0.0300) (32.18,0.0330) (32.30,0.0350) (32.41,0.0400)
(32.52,0.0300) (32.64,0.0220) (32.75,0.0250) (32.87,0.0230) (32.99,0.0260) (33.10,0.0230) (33.22,0.0250) (33.33,0.0220) (33.45,0.0240)
(33.52,0.0150) (33.56,0.0000) (33.66,0.0020) (33.79,-0.0040) (33.90,0.0000) (34.02,-0.0020) (34.13,0.0010) (34.25,0.0000) (34.38,-0.0010)
(34.48,-0.0210) (34.58,-0.0250) (34.70,-0.0270) (34.83,-0.0290) (34.95,-0.0250) (35.06,-0.0280) (35.17,-0.0270) (35.30,-0.0250) (35.42,-0.0300)
(35.52,-0.0460) (35.62,-0.0440) (35.74,-0.0470) (35.86,-0.0490) (35.98,-0.0450) (36.09,-0.0470) (36.20,-0.0420) (36.32,-0.0440) (36.45,-0.0470)
(36.55,-0.0660) (36.65,-0.0580) (36.78,-0.0570) (36.90,-0.0550) (37.02,-0.0560) (37.13,-0.0520) (37.25,-0.0530) (37.36,-0.0500) (37.48,-0.0480)
(37.59,-0.0420) (37.70,-0.0440) (37.82,-0.0430) (37.93,-0.0400) (38.05,-0.0380) (38.16,-0.0350) (38.28,-0.0330) (38.39,-0.0290)
(38.50,-0.0250) (38.62,-0.0210) (38.73,-0.0230) (38.85,-0.0200) (38.97,-0.0210) (39.08,-0.0150) (39.20,-0.0080) (39.31,-0.0060) (39.43,-0.0050)
(39.54,-0.0040) (39.66,-0.0020) (39.77,-0.0050) (39.89,-0.0040) (40.00,0.0010) (40.12,0.0030) (40.23,0.0090) (40.35,0.0080) (40.46,0.0110)
(40.57,0.0130) (40.69,0.0110) (40.80,0.0150) (40.92,0.0180) (41.03,0.0170) (41.15,0.0210) (41.26,0.0260) (41.38,0.0230) (41.49,0.0200)
(41.60,0.0240) (41.72,0.0220) (41.83,0.0240) (41.95,0.0250) (42.07,0.0260) (42.18,0.0230) (42.30,0.0250) (42.41,0.0220) (42.53,0.0120)
(42.64,0.0077) (42.80,0.0100) (42.95,0.0119) (43.06,0.0006) (43.18,0.0105) (43.30,0.0085) (43.41,0.0091) (43.45,0.0162) (43.52,-0.0079)
(43.56,-0.0235) (43.64,-0.0107) (43.75,-0.0125) (43.87,-0.0136) (43.95,-0.0051) (44.02,-0.0207) (44.18,-0.0107) (44.30,-0.0120) (44.41,-0.0093) (44.45,-0.0022) (44.52,-0.0277)
(44.56,-0.0447) (44.64,-0.0320) (44.75,-0.0330) (44.87,-0.0349) (44.94,-0.0264) (45.10,-0.0334) (45.20,-0.0310) (45.33,-0.0306) (45.41,-0.0221) (45.48,-0.0362)
(45.56,-0.0589) (45.63,-0.0490) (45.75,-0.0470) (45.86,-0.0476) (46.02,-0.0504) (46.17,-0.0405) (46.32,-0.0419) (46.40,-0.0362) (46.48,-0.0447)
(46.55,-0.0589) (46.71,-0.0532) (46.86,-0.0519) (47.01,-0.0476) (47.16,-0.0377) (47.32,-0.0391) (47.40,-0.0380) (47.47,-0.0434) (47.55,-0.0420) (47.70,-0.0419) (47.86,-0.0391) (48.01,-0.0362)
(48.05,-0.0249) (48.16,-0.0221) (48.32,-0.0249) (48.47,-0.0207) (48.62,-0.0264) (48.78,-0.0221) (48.89,-0.0207) (48.97,-0.0264)
(49.05,-0.0051) (49.16,-0.0022) (49.32,-0.0065) (49.47,-0.0022) (49.58,-0.0107) (49.74,-0.0051) (49.90,-0.0022) (49.98,0.0012)
};
\end{axis}

% panel tags and x labels
\begin{scope}[font=\fontsize{12}{14}\selectfont]
\node at (0.81,13.53) {a)};
\node[draw, fill=white, line width=0.5pt, minimum width=0.75cm, minimum height=0.40cm, inner sep=0pt] at (1.465,13.53) {δ N};
\node at (1.10,10.73) {b)};
\node[draw, fill=white, line width=0.5pt, minimum width=0.90cm, minimum height=0.50cm, inner sep=0pt] at (1.80,10.70) {\gsub{δ,11}};
\node at (1.12,8.10) {c)};
\node[draw, fill=white, line width=0.5pt, minimum width=0.85cm, minimum height=0.49cm, inner sep=0pt] at (1.765,8.045) {\gsub{δ,14}};
\node at (1.28,5.21) {d)};
\node[draw, fill=white, line width=0.5pt, minimum width=0.88cm, minimum height=0.51cm, inner sep=0pt] at (2.01,5.145) {\gsub{δ,11}};
\node at (1.11,2.52) {e)};
\node[draw, fill=white, line width=0.5pt, minimum width=1.08cm, minimum height=0.48cm, inner sep=0pt] at (1.87,2.47) {\gsub{δ,11.9}};
\node at (7.22,11.53) {\timelabel};
\node at (7.66,8.60) {\timelabel};
\node at (7.67,5.86) {\timelabel};
\node at (7.66,3.03) {\timelabel};
\node at (7.66,0.25) {\timelabel};
\end{scope}
\end{tikzpicture}
\end{document}
